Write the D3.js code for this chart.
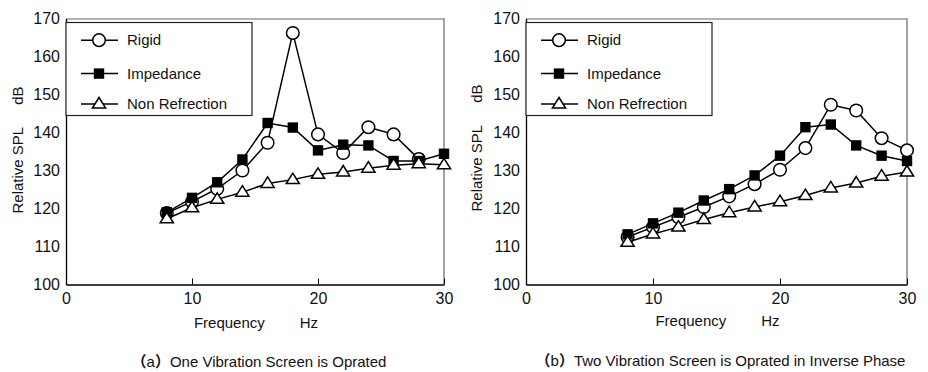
<!DOCTYPE html>
<html>
<head>
<meta charset="utf-8">
<script src="https://cdn.jsdelivr.net/npm/d3@7"></script>
<style>
  html, body { margin: 0; padding: 0; background: #fff; }
  svg text { font-family: "Liberation Sans", Arial, sans-serif; fill: #111; }
</style>
</head>
<body>
<svg id="chart" width="928" height="372"></svg>
<script>
// ---------- data ----------
const frequencies = [8, 10, 12, 14, 16, 18, 20, 22, 24, 26, 28, 30];
const xTicks = [0, 10, 20, 30];
const yTicks = [100, 110, 120, 130, 140, 150, 160, 170];
const seriesNames = ["Rigid", "Impedance", "Non Refrection"];

// panel (a): one vibration screen operated (Rigid has no visible point at 30 Hz)
const aRigid     = [118.8, 121.8, 125.2, 130.0, 137.3, 166.2, 139.5, 134.6, 141.4, 139.5, 133.0, null];
const aImpedance = [119.0, 122.8, 126.9, 132.9, 142.5, 141.3, 135.3, 136.8, 136.6, 132.5, 132.5, 134.4];
const aNonRefl   = [117.3, 120.2, 122.4, 124.3, 126.6, 127.6, 129.0, 129.6, 130.6, 131.4, 131.8, 131.5];

// panel (b): two vibration screens operated in inverse phase
const bRigid     = [112.5, 115.1, 117.7, 120.4, 123.2, 126.4, 130.2, 135.9, 147.3, 145.8, 138.5, 135.3];
const bImpedance = [113.2, 116.1, 118.9, 122.1, 125.1, 128.7, 133.9, 141.4, 142.1, 136.6, 133.9, 132.5];
const bNonRefl   = [111.1, 113.3, 115.1, 117.1, 118.9, 120.4, 121.8, 123.4, 125.4, 126.7, 128.5, 129.6];

const captionA = "One Vibration Screen is Oprated";
const captionB = "Two Vibration Screen is Oprated in Inverse Phase";
const xLabel = "Frequency";
const xUnit = "Hz";
const yLabel = "Relative SPL";
const yUnit = "dB";

// ---------- drawing ----------
const svg = d3.select("#chart");
const markerTypes = ["circle", "square", "triangle"];

function drawMarker(g, type, cx, cy) {
  if (type === "circle") {
    g.append("circle").attr("cx", cx).attr("cy", cy).attr("r", 6.3)
      .attr("fill", "#fff").attr("stroke", "#000").attr("stroke-width", 1.5);
  } else if (type === "square") {
    g.append("rect").attr("x", cx - 5.2).attr("y", cy - 5.2).attr("width", 10.4).attr("height", 10.4)
      .attr("fill", "#000");
  } else {
    const w = 6.6, h = 10.5;
    g.append("path")
      .attr("d", `M${cx},${cy - h * 0.62}L${cx + w},${cy + h * 0.38}L${cx - w},${cy + h * 0.38}Z`)
      .attr("fill", "#fff").attr("stroke", "#000").attr("stroke-width", 1.5).attr("stroke-linejoin", "miter");
  }
}

function panel(opts) {
  const { left, right, top, bottom, series, tag, caption, yLabX, yLabY, xLabY, capY } = opts;
  const x = d3.scaleLinear().domain([0, 30]).range([left, right]);
  const y = d3.scaleLinear().domain([100, 170]).range([bottom, top]);
  const g = svg.append("g");

  // frame top/right (gray)
  g.append("line").attr("x1", left).attr("x2", right).attr("y1", top + 0.5).attr("y2", top + 0.5)
    .attr("stroke", "#666").attr("stroke-width", 1.2);
  g.append("line").attr("x1", right).attr("x2", right).attr("y1", top).attr("y2", bottom)
    .attr("stroke", "#666").attr("stroke-width", 1.2);

  // x axis
  const xAxis = d3.axisBottom(x).tickValues(xTicks).tickSizeInner(-6).tickSizeOuter(0).tickPadding(8);
  const gx = g.append("g").attr("transform", `translate(0,${bottom})`).call(xAxis);
  gx.select(".domain").attr("stroke", "#000").attr("stroke-width", 1.3);
  gx.selectAll(".tick line").attr("stroke", "#000").attr("stroke-width", 1);
  gx.selectAll(".tick text").attr("font-size", 16).attr("fill", "#111")
    .attr("font-family", "Liberation Sans, Arial, sans-serif");

  // y axis
  const yAxis = d3.axisLeft(y).tickValues(yTicks).tickSize(0).tickPadding(6);
  const gy = g.append("g").attr("transform", `translate(${left},0)`).call(yAxis);
  gy.select(".domain").attr("stroke", "#000").attr("stroke-width", 1.3);
  gy.selectAll(".tick text").attr("font-size", 16).attr("fill", "#111")
    .attr("font-family", "Liberation Sans, Arial, sans-serif");

  // series
  const line = d3.line().defined(d => d != null).x((d, i) => x(frequencies[i])).y(d => y(d));
  series.forEach((vals, si) => {
    const sg = g.append("g");
    sg.append("path").datum(vals).attr("d", line)
      .attr("fill", "none").attr("stroke", "#000").attr("stroke-width", 1.5);
    vals.forEach((v, i) => { if (v != null) drawMarker(sg, markerTypes[si], x(frequencies[i]), y(v)); });
  });

  // legend
  const lg = g.append("g");
  const lx0 = left, ly0 = top + 4, lw = 186, lh = 93;
  lg.append("rect").attr("x", lx0).attr("y", ly0).attr("width", lw).attr("height", lh)
    .attr("fill", "#fff").attr("stroke", "#222").attr("stroke-width", 1.2);
  const rowY = [y(164.3), y(155.5), y(147.5)];
  seriesNames.forEach((name, si) => {
    const ry = rowY[si];
    lg.append("line").attr("x1", lx0 + 15).attr("x2", lx0 + 52).attr("y1", ry).attr("y2", ry)
      .attr("stroke", "#000").attr("stroke-width", 1.5);
    drawMarker(lg, markerTypes[si], lx0 + 33, ry);
    lg.append("text").attr("x", lx0 + 61).attr("y", ry).attr("dy", "0.35em")
      .attr("font-size", 15).text(name);
  });

  // x label
  const xl = g.append("text").attr("x", (left + right) / 2 + 1).attr("y", xLabY)
    .attr("text-anchor", "middle").attr("dy", "0.35em").attr("font-size", 15);
  xl.append("tspan").text(xLabel);
  xl.append("tspan").attr("dx", 35).text(xUnit);

  // y label
  const yl = g.append("text").attr("transform", `translate(${yLabX},${yLabY}) rotate(-90)`)
    .attr("text-anchor", "middle").attr("dy", "0.35em").attr("font-size", 15);
  yl.append("tspan").text(yLabel);
  yl.append("tspan").attr("dx", 22).text(yUnit);

  // caption
  const cap = g.append("text").attr("x", (left + right) / 2 + 4).attr("y", capY)
    .attr("text-anchor", "middle").attr("dy", "0.35em").attr("font-size", 15);
  cap.append("tspan").attr("font-family", "Noto Sans CJK SC").attr("font-weight", "bold").text("（");
  cap.append("tspan").text(tag);
  cap.append("tspan").attr("font-family", "Noto Sans CJK SC").attr("font-weight", "bold").text("）");
  cap.append("tspan").text(caption);
}

panel({ left: 66, right: 444, top: 18.5, bottom: 284.5,
        series: [aRigid, aImpedance, aNonRefl], tag: "a", caption: captionA,
        yLabX: 18, yLabY: 150, xLabY: 323, capY: 362 });
panel({ left: 526, right: 907, top: 18.5, bottom: 284.5,
        series: [bRigid, bImpedance, bNonRefl], tag: "b", caption: captionB,
        yLabX: 477, yLabY: 148, xLabY: 321, capY: 361 });
</script>
</body>
</html>
